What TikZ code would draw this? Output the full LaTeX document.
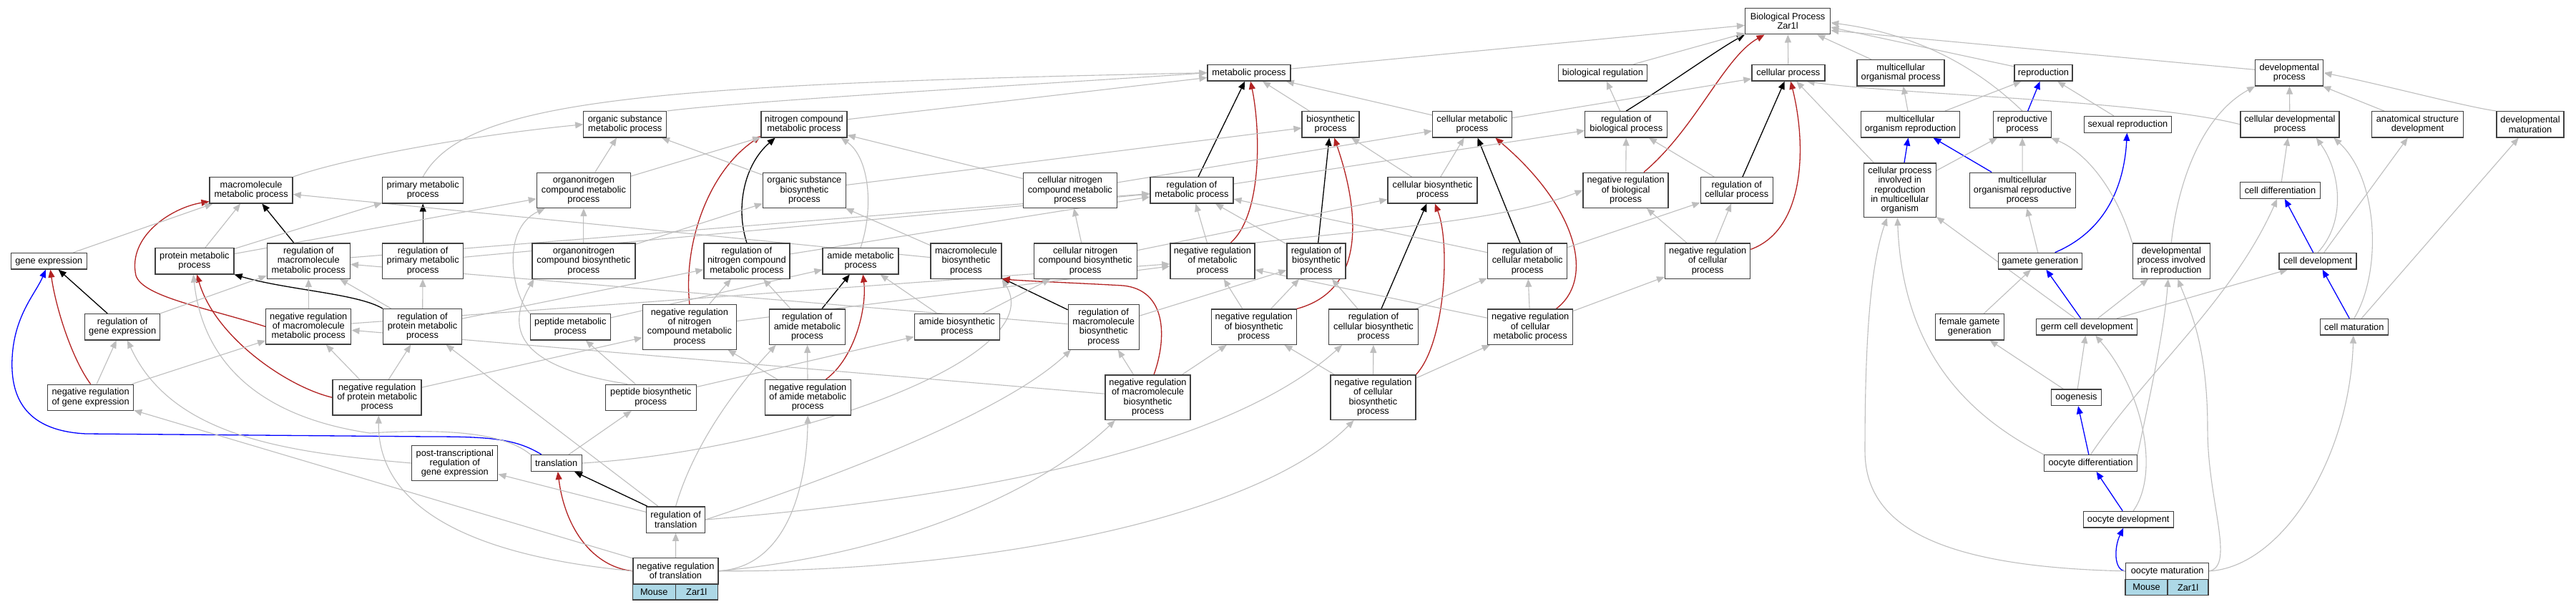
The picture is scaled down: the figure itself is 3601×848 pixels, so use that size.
\documentclass[tikz,border=0pt]{standalone}
\usepackage{fontspec}
\setmainfont{Liberation Sans}
\usetikzlibrary{arrows.meta,positioning,backgrounds}
\definecolor{edgegray}{RGB}{190,190,190}
\definecolor{edgered}{RGB}{178,34,34}
\definecolor{edgeblue}{RGB}{0,0,255}
\definecolor{boxline}{RGB}{64,64,64}
\definecolor{speciesfill}{RGB}{173,216,230}
\newcommand{\termfont}{\fontsize{12.8}{13.3}\selectfont}
\tikzset{
  term/.style={draw=boxline, line width=1.3pt, fill=white, align=center, inner sep=0pt, font=\termfont},
  h1/.style={minimum height=22.7pt},
  h2/.style={minimum height=36.3pt},
  h3/.style={minimum height=49.3pt},
  h4/.style={minimum height=62.7pt},
  h5/.style={minimum height=75.7pt},
  cell/.style={draw=boxline, line width=1.3pt, fill=speciesfill, inner sep=0pt, outer sep=0pt, minimum height=21.6pt, font=\termfont},
  isa/.style={draw=edgegray, line width=1.1pt, -{Triangle[length=11pt,width=9pt]}},
  reg/.style={isa, draw=black, line width=1.3pt},
  negreg/.style={isa, draw=edgered, line width=1.3pt},
  partof/.style={isa, draw=edgeblue, line width=1.3pt}
}
\begin{document}
\begin{tikzpicture}[x=1pt, y=-1pt]
\useasboundingbox (0,0) rectangle (3601,848);
% terms
\node[term, h1, minimum width=106pt] (ge) at (68.3,364.7) {gene expression};
\node[term, h2, minimum width=116pt] (mmp) at (351.1,265.8) {macromolecule\\metabolic process};
\node[term, h2, minimum width=110pt] (pmp) at (271.9,364.7) {protein metabolic\\process};
\node[term, h3, minimum width=116pt] (rmmp) at (431.3,364.5) {regulation of\\macromolecule\\metabolic process};
\node[term, h2, minimum width=113pt] (prmp) at (591.2,265.8) {primary metabolic\\process};
\node[term, h3, minimum width=113pt] (rprmp) at (591.2,364.5) {regulation of\\primary metabolic\\process};
\node[term, h2, minimum width=105pt] (rge) at (171.2,456.7) {regulation of\\gene expression};
\node[term, h2, minimum width=120pt] (nrge) at (126.6,555.3) {negative regulation\\of gene expression};
\node[term, h3, minimum width=119pt] (nrmmp) at (431.3,456.3) {negative regulation\\of macromolecule\\metabolic process};
\node[term, h3, minimum width=110pt] (rpmp) at (590.5,456.3) {regulation of\\protein metabolic\\process};
\node[term, h3, minimum width=124pt] (nrpmp) at (527.1,555.3) {negative regulation\\of protein metabolic\\process};
\node[term, h3, minimum width=120pt] (ptrge) at (635.8,647) {post-transcriptional\\regulation of\\gene expression};
\node[term, h2, minimum width=116pt] (osmp) at (873.8,173.8) {organic substance\\metabolic process};
\node[term, h2, minimum width=120pt] (ncmp) at (1124,173.8) {nitrogen compound\\metabolic process};
\node[term, h3, minimum width=131pt] (oncmp) at (815.9,265.8) {organonitrogen\\compound metabolic\\process};
\node[term, h3, minimum width=116pt] (osbp) at (1124.4,265.8) {organic substance\\biosynthetic\\process};
\node[term, h3, minimum width=144pt] (oncbp) at (815.9,364.5) {organonitrogen\\compound biosynthetic\\process};
\node[term, h3, minimum width=120pt] (rncmp) at (1043.9,364.5) {regulation of\\nitrogen compound\\metabolic process};
\node[term, h2, minimum width=106pt] (amp) at (1203,364.7) {amide metabolic\\process};
\node[term, h2, minimum width=112pt] (pepmp) at (797.3,456.7) {peptide metabolic\\process};
\node[term, h4, minimum width=131pt] (nrncmp) at (963.9,456.8) {negative regulation\\of nitrogen\\compound metabolic\\process};
\node[term, h3, minimum width=106pt] (ramp) at (1128.4,456.7) {regulation of\\amide metabolic\\process};
\node[term, h2, minimum width=127pt] (pepbp) at (909.7,555.3) {peptide biosynthetic\\process};
\node[term, h3, minimum width=120pt] (nramp) at (1129.2,555.3) {negative regulation\\of amide metabolic\\process};
\node[term, h1, minimum width=71pt] (tr) at (777.7,647) {translation};
\node[term, h2, minimum width=82pt] (rtr) at (944.6,726) {regulation of\\translation};
\node[term, h2, minimum width=119pt] (nrtr) at (944.4,797.7) {negative regulation\\of translation};
\node[cell, minimum width=60pt, anchor=north west] (nrtrmouse) at (nrtr.south west) {Mouse};
\node[cell, minimum width=59pt, right=0pt of nrtrmouse] (nrtrgene) {Zar1l};
\node[term, h1, minimum width=116pt] (mp) at (1746,101.7) {metabolic process};
\node[term, h3, minimum width=131pt] (cncmp) at (1495.8,265.8) {cellular nitrogen\\compound metabolic\\process};
\node[term, h2, minimum width=116pt] (rmp) at (1665.9,265.8) {regulation of\\metabolic process};
\node[term, h3, minimum width=99pt] (mbp) at (1350.4,364.5) {macromolecule\\biosynthetic\\process};
\node[term, h3, minimum width=144pt] (cncbp) at (1517.2,364.5) {cellular nitrogen\\compound biosynthetic\\process};
\node[term, h3, minimum width=118pt] (nrmp) at (1694.9,364.5) {negative regulation\\of metabolic\\process};
\node[term, h2, minimum width=119pt] (abp) at (1337.8,456.7) {amide biosynthetic\\process};
\node[term, h4, minimum width=99pt] (rmbp) at (1542.7,456.8) {regulation of\\macromolecule\\biosynthetic\\process};
\node[term, h4, minimum width=119pt] (nrmbp) at (1604.5,555.2) {negative regulation\\of macromolecule\\biosynthetic\\process};
\node[term, h3, minimum width=119pt] (nrbp) at (1752.7,456.7) {negative regulation\\of biosynthetic\\process};
\node[term, h2, minimum width=80pt] (bp) at (1860.1,173.8) {biosynthetic\\process};
\node[term, h2, minimum width=111pt] (cmp) at (2057.9,173.8) {cellular metabolic\\process};
\node[term, h1, minimum width=124pt] (br) at (2240.4,101.7) {biological regulation};
\node[term, h2, minimum width=115pt] (rbp) at (2273.3,173.8) {regulation of\\biological process};
\node[term, h2, minimum width=125pt] (cbp) at (2002.5,265.8) {cellular biosynthetic\\process};
\node[term, h3, minimum width=119pt] (nrbiop) at (2272.6,265.8) {negative regulation\\of biological\\process};
\node[term, h2, minimum width=101pt] (rcp) at (2427.7,265.8) {regulation of\\cellular process};
\node[term, h3, minimum width=82pt] (rbsp) at (1840,364.5) {regulation of\\biosynthetic\\process};
\node[term, h3, minimum width=111pt] (rcmp) at (2135.2,364.5) {regulation of\\cellular metabolic\\process};
\node[term, h3, minimum width=119pt] (nrcp) at (2387.2,364.5) {negative regulation\\of cellular\\process};
\node[term, h3, minimum width=125pt] (rcbp) at (1920,456.7) {regulation of\\cellular biosynthetic\\process};
\node[term, h3, minimum width=119pt] (nrcmp) at (2139.2,456.7) {negative regulation\\of cellular\\metabolic process};
\node[term, h4, minimum width=119pt] (nrcbp) at (1919.4,555.2) {negative regulation\\of cellular\\biosynthetic\\process};
\node[term, h2, minimum width=119pt] (root) at (2499.1,29.7) {Biological Process\\Zar1l};
\node[term, h1, minimum width=102pt] (cp) at (2499.9,101.7) {cellular process};
\node[term, h2, minimum width=122pt] (mop) at (2657.1,101.8) {multicellular\\organismal process};
\node[term, h1, minimum width=81pt] (rep) at (2856.5,101.7) {reproduction};
\node[term, h2, minimum width=138pt] (mor) at (2670.5,173.8) {multicellular\\organism reproduction};
\node[term, h2, minimum width=81pt] (rp) at (2827,173.8) {reproductive\\process};
\node[term, h1, minimum width=122pt] (sr) at (2974.4,173.8) {sexual reproduction};
\node[term, h5, minimum width=101pt] (cpirmo) at (2655.8,265.8) {cellular process\\involved in\\reproduction\\in multicellular\\organism};
\node[term, h3, minimum width=148pt] (morp) at (2827.2,265.8) {multicellular\\organismal reproductive\\process};
\node[term, h1, minimum width=117pt] (gg) at (2851.8,364.7) {gamete generation};
\node[term, h3, minimum width=108pt] (dpir) at (3035.2,364.5) {developmental\\process involved\\in reproduction};
\node[term, h2, minimum width=96pt] (fgg) at (2753.2,456.7) {female gamete\\generation};
\node[term, h1, minimum width=141pt] (gcd) at (2917.2,456.7) {germ cell development};
\node[term, h1, minimum width=70pt] (oog) at (2902.4,555.3) {oogenesis};
\node[term, h1, minimum width=130pt] (odiff) at (2922.5,647) {oocyte differentiation};
\node[term, h1, minimum width=126pt] (odev) at (2975.2,725.7) {oocyte development};
\node[term, h1, minimum width=116pt] (omat) at (3029.7,797.8) {oocyte maturation};
\node[cell, minimum width=59pt, anchor=north west] (omatmouse) at (omat.south west) {Mouse};
\node[cell, minimum width=57pt, right=0pt of omatmouse] (omatgene) {Zar1l};
\node[term, h2, minimum width=95pt] (dp) at (3200.3,101.8) {developmental\\process};
\node[term, h2, minimum width=138pt] (cdp) at (3200.9,173.8) {cellular developmental\\process};
\node[term, h2, minimum width=128pt] (asd) at (3379.4,173.8) {anatomical structure\\development};
\node[term, h2, minimum width=94pt] (dm) at (3537,173.8) {developmental\\maturation};
\node[term, h1, minimum width=112pt] (cdiff) at (3187.5,266) {cell differentiation};
\node[term, h1, minimum width=108pt] (cdev) at (3240,364.7) {cell development};
\node[term, h1, minimum width=95pt] (cmat) at (3290.8,456.7) {cell maturation};
\begin{pgfonlayer}{background}
\fill[white] (0,0) rectangle (3601,848);
% regulates
\draw[reg] (rmmp) -- (mmp);
\draw[reg] (rprmp) -- (prmp);
\draw[reg] (rpmp.north west) .. controls (500,410) and (400,405) .. (pmp.south east);
\draw[reg] (rge) -- (ge);
\draw[reg] (rncmp.north) .. controls (1028,290) and (1040,230) .. (ncmp.-155);
\draw[reg] (ramp) -- (amp);
\draw[reg] (rtr) -- (tr);
\draw[reg] (rmbp) -- (mbp);
\draw[reg] (rmp) -- (mp);
\draw[reg] (rbsp) -- (bp);
\draw[reg] (rcbp) -- (cbp);
\draw[reg] (rcmp) -- (cmp);
\draw[reg] (rbp.north) .. controls (2330,120) and (2400,70) .. (root.south west);
\draw[reg] (rcp) -- (cp);
% negatively regulates
\draw[negreg] (nrge.north) .. controls (100,500) and (78,430) .. (ge.-80);
\draw[negreg] (nrmmp.west) .. controls (290,430) and (200,415) .. (190,385) .. controls (178,330) and (240,290) .. (mmp.195);
\draw[negreg] (nrpmp.west) .. controls (400,540) and (300,470) .. (pmp.-80);
\draw[negreg] (nrncmp.north) .. controls (955,340) and (990,240) .. (ncmp.-165);
\draw[negreg] (nramp.45) .. controls (1195,500) and (1212,430) .. (amp.-80);
\draw[negreg] (nrmbp.75) .. controls (1632,470) and (1630,405) .. (1570,399) .. controls (1500,395) and (1440,393) .. (mbp.south east);
\draw[negreg] (nrmp.45) .. controls (1765,300) and (1762,180) .. (mp.-80);
\draw[negreg] (nrbp.north east) .. controls (1930,400) and (1885,250) .. (bp.-75);
\draw[negreg] (nrcbp.north east) .. controls (2020,480) and (2028,340) .. (cbp.-80);
\draw[negreg] (nrcmp.35) .. controls (2230,390) and (2205,290) .. (cmp.-30);
\draw[negreg] (nrcp.15) .. controls (2525,320) and (2525,200) .. (cp.-75);
\draw[negreg] (nrbiop.45) .. controls (2370,180) and (2410,80) .. (root.-150);
\draw[negreg] (nrtr.west) .. controls (830,792) and (790,740) .. (tr.-80);
% part of
\draw[partof] (tr.150) .. controls (720,612) and (680,610) .. (600,610) -- (120,606) .. controls (40,602) and (14,560) .. (17,500) .. controls (20,440) and (50,410) .. (ge.-110);
\draw[partof] (rp) -- (rep);
\draw[partof] (cpirmo) -- (mor);
\draw[partof] (morp) -- (mor);
\draw[partof] (gg.30) .. controls (2950,320) and (2970,250) .. (sr.-95);
\draw[partof] (gcd) -- (gg);
\draw[partof] (cdev) -- (cdiff);
\draw[partof] (cmat) -- (cdev);
\draw[partof] (odiff) -- (oog);
\draw[partof] (odev) -- (odiff);
\draw[partof] (omat.west) .. controls (2955,797) and (2955,765) .. (odev.-120);
% is a
\draw[isa] (ge) -- (mmp);
\draw[isa] (pmp) -- (mmp);
\draw[isa] (mbp) -- (mmp);
\draw[isa] (mmp.north east) .. controls (480,222) and (650,190) .. (osmp.west);
\draw[isa] (pmp) -- (prmp);
\draw[isa] (pmp) -- (oncmp);
\draw[isa] (prmp.north) .. controls (650,140) and (900,118) .. (mp.west);
\draw[isa] (osmp.north east) .. controls (1050,140) and (1500,115) .. (mp.west);
\draw[isa] (ncmp) -- (mp);
\draw[isa] (oncmp) -- (osmp);
\draw[isa] (oncmp) -- (ncmp);
\draw[isa] (osbp) -- (osmp);
\draw[isa] (osbp) -- (bp);
\draw[isa] (oncbp) -- (oncmp);
\draw[isa] (oncbp) -- (osbp);
\draw[isa] (pepbp.150) .. controls (740,515) and (700,470) .. (oncbp.-160);
\draw[isa] (pepmp.north west) .. controls (715,410) and (700,320) .. (oncmp.-155);
\draw[isa] (pepmp) -- (amp);
\draw[isa] (pepbp) -- (pepmp);
\draw[isa] (pepbp) -- (abp);
\draw[isa] (tr) -- (pepbp);
\draw[isa] (tr.east) .. controls (1100,630) and (1470,500) .. (mbp.south east);
\draw[isa] (tr.north west) .. controls (700,600) and (600,600) .. (517,605) .. controls (380,585) and (285,520) .. (pmp.-95);
\draw[isa] (amp.north) .. controls (1222,290) and (1215,220) .. (ncmp.-20);
\draw[isa] (abp) -- (amp);
\draw[isa] (abp) -- (cncbp);
\draw[isa] (mbp) -- (osbp);
\draw[isa] (cncmp) -- (ncmp);
\draw[isa] (cncmp) -- (cmp);
\draw[isa] (cncbp) -- (cncmp);
\draw[isa] (cncbp) -- (cbp);
\draw[isa] (rmp) -- (rbp);
\draw[isa] (rmmp) -- (rmp);
\draw[isa] (rprmp) -- (rmp);
\draw[isa] (rncmp) -- (rmp);
\draw[isa] (nrmp) -- (rmp);
\draw[isa] (rbsp) -- (rmp);
\draw[isa] (rcmp) -- (rmp);
\draw[isa] (nrmp.north east) .. controls (1900,322) and (2100,310) .. (nrbiop.west);
\draw[isa] (nrmmp) -- (nrmp);
\draw[isa] (nrncmp) -- (nrmp);
\draw[isa] (nrbp) -- (nrmp);
\draw[isa] (nrcmp) -- (nrmp);
\draw[isa] (nrbiop) -- (rbp);
\draw[isa] (nrcp) -- (nrbiop);
\draw[isa] (rcp) -- (rbp);
\draw[isa] (nrcp) -- (rcp);
\draw[isa] (rbp) -- (br);
\draw[isa] (br) -- (root);
\draw[isa] (mp) -- (root);
\draw[isa] (cmp) -- (mp);
\draw[isa] (cmp) -- (cp);
\draw[isa] (cbp) -- (cmp);
\draw[isa] (cbp) -- (bp);
\draw[isa] (bp) -- (mp);
\draw[isa] (rcbp) -- (rbsp);
\draw[isa] (rmbp) -- (rbsp);
\draw[isa] (nrbp) -- (rbsp);
\draw[isa] (rcbp) -- (rcmp);
\draw[isa] (rcmp) -- (rcp);
\draw[isa] (nrcmp) -- (rcmp);
\draw[isa] (nrcmp) -- (nrcp);
\draw[isa] (nrcbp) -- (rcbp);
\draw[isa] (nrcbp) -- (nrcmp);
\draw[isa] (nrcbp) -- (nrbp);
\draw[isa] (nrmbp) -- (nrbp);
\draw[isa] (nrmbp) -- (rmbp);
\draw[isa] (nrmbp) -- (nrmmp);
\draw[isa] (rmbp) -- (rmmp);
\draw[isa] (nrncmp) -- (rncmp);
\draw[isa] (ramp) -- (rncmp);
\draw[isa] (rpmp) -- (rncmp);
\draw[isa] (rpmp) -- (rmmp);
\draw[isa] (rpmp) -- (rprmp);
\draw[isa] (nrmmp) -- (rmmp);
\draw[isa] (rge) -- (rmmp);
\draw[isa] (nrge) -- (rge);
\draw[isa] (nrge) -- (nrmmp);
\draw[isa] (nrtr) -- (nrge);
\draw[isa] (ptrge.west) .. controls (400,632) and (240,610) .. (rge.-70);
\draw[isa] (rtr) -- (ptrge);
\draw[isa] (rtr) -- (rpmp);
\draw[isa] (rtr.north) .. controls (970,620) and (1030,540) .. (ramp.-150);
\draw[isa] (rtr.east) .. controls (1150,672) and (1400,580) .. (rmbp.-145);
\draw[isa] (rtr.east) .. controls (1300,700) and (1700,640) .. (rcbp.-150);
\draw[isa] (nrpmp) -- (rpmp);
\draw[isa] (nrpmp) -- (nrncmp);
\draw[isa] (nrpmp) -- (nrmmp);
\draw[isa] (nrtr.west) .. controls (640,775) and (528,700) .. (nrpmp.-85);
\draw[isa] (nramp) -- (nrncmp);
\draw[isa] (nramp) -- (ramp);
\draw[isa] (nrtr.east) .. controls (1100,792) and (1128,680) .. (nramp.south);
\draw[isa] (nrtr.east) .. controls (1250,775) and (1450,690) .. (nrmbp.-145);
\draw[isa] (nrtr.east) .. controls (1350,800) and (1750,730) .. (nrcbp.-130);
\draw[isa] (nrtr) -- (rtr);
\draw[isa] (cp) -- (root);
\draw[isa] (mop) -- (root);
\draw[isa] (rep) -- (root.-8);
\draw[isa] (rp.north) .. controls (2780,110) and (2700,50) .. (root.-2);
\draw[isa] (dp) -- (root.-12);
\draw[isa] (mor) -- (mop);
\draw[isa] (mor) -- (rep);
\draw[isa] (sr) -- (rep);
\draw[isa] (cpirmo) -- (rp);
\draw[isa] (morp) -- (rp);
\draw[isa] (dpir.north west) .. controls (2960,270) and (2920,215) .. (rp.-25);
\draw[isa] (cpirmo) -- (cp);
\draw[isa] (cdp.west) .. controls (3000,140) and (2650,132) .. (cp.-25);
\draw[isa] (omat.west) .. controls (2700,792) and (2607,730) .. (2607,630) .. controls (2607,470) and (2615,370) .. (cpirmo.-115);
\draw[isa] (odiff.north west) .. controls (2760,585) and (2660,500) .. (cpirmo.-95);
\draw[isa] (gcd) -- (cpirmo);
\draw[isa] (gg) -- (morp);
\draw[isa] (fgg) -- (gg);
\draw[isa] (dpir.north) .. controls (3045,250) and (3080,160) .. (dp.south west);
\draw[isa] (gcd) -- (dpir);
\draw[isa] (odiff.north east) .. controls (2995,600) and (3025,470) .. (dpir.-100);
\draw[isa] (omat.east) .. controls (3125,790) and (3086,700) .. (3086,600) .. controls (3086,480) and (3060,430) .. (dpir.-70);
\draw[isa] (omat.east) .. controls (3190,792) and (3285,640) .. (cmat.-95);
\draw[isa] (gcd) -- (cdev);
\draw[isa] (odiff.north) .. controls (3000,520) and (3120,420) .. (cdiff.-110);
\draw[isa] (cmat.north) .. controls (3330,380) and (3325,250) .. (cdp.-17);
\draw[isa] (cmat) -- (dm);
\draw[isa] (cdev.north) .. controls (3280,310) and (3272,240) .. (cdp.-27);
\draw[isa] (cdev) -- (asd);
\draw[isa] (cdiff) -- (cdp);
\draw[isa] (cdp) -- (dp);
\draw[isa] (asd) -- (dp);
\draw[isa] (dm.north west) .. controls (3450,150) and (3330,118) .. (dp.east);
\draw[isa] (odev.60) .. controls (3020,660) and (2995,545) .. (gcd.-45);
\draw[isa] (oog) -- (gcd);
\draw[isa] (oog) -- (fgg);
\end{pgfonlayer}
\end{tikzpicture}
\end{document}
